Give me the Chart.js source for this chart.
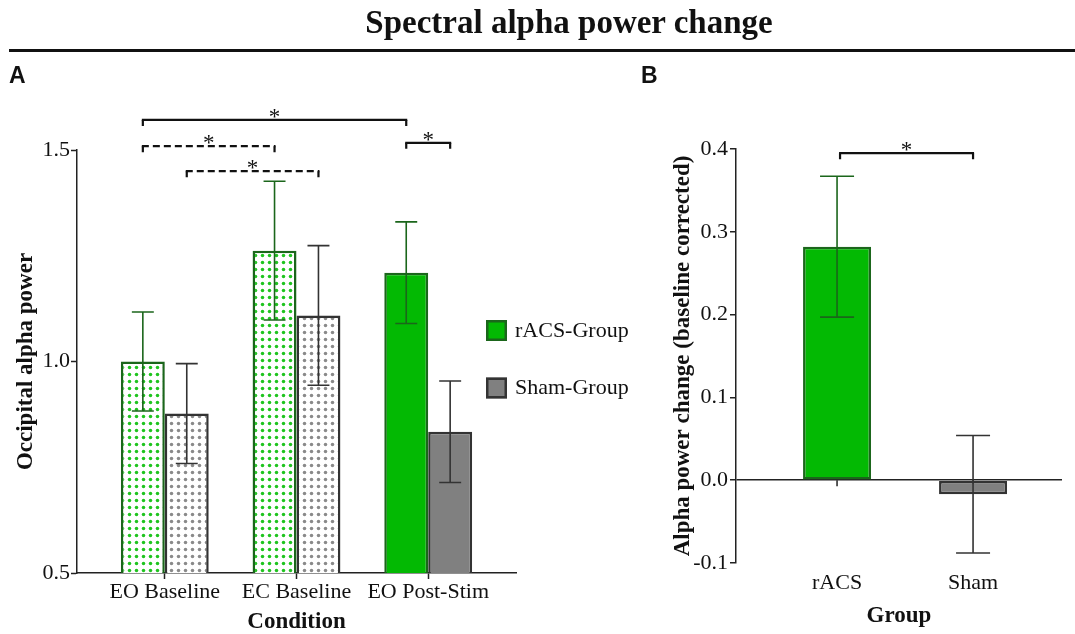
<!DOCTYPE html>
<html><head><meta charset="utf-8">
<script src="https://cdn.jsdelivr.net/npm/chart.js@4.4.1/dist/chart.umd.min.js"></script>
<style>
html,body{margin:0;padding:0;background:#fff;}
#wrap{position:relative;width:1075px;height:634px;overflow:hidden;background:#fff;}
#title{position:absolute;left:569px;top:3px;transform:translateX(-50%);font:bold 33px 'Liberation Serif','Times New Roman',serif;line-height:38px;white-space:nowrap;color:#111;}
#rule{position:absolute;left:9px;top:49px;width:1066px;height:3px;background:#111;}
.panel{position:absolute;top:64px;font:bold 23px 'Liberation Sans',Arial,sans-serif;line-height:23px;color:#111;}
#cA{position:absolute;left:0;top:0;}
#cB{position:absolute;left:640px;top:0;}
</style></head><body>
<div id="wrap">
<canvas id="cA" width="640" height="634"></canvas>
<canvas id="cB" width="435" height="634"></canvas>
<div id="title">Spectral alpha power change</div>
<div id="rule"></div>
<div class="panel" style="left:9px">A</div>
<div class="panel" style="left:641px">B</div>
</div>
<script>
// ---- data ----
const conditions = ['EO Baseline', 'EC Baseline', 'EO Post-Stim'];
const racsMean = [1.0, 1.262, 1.21];
const racsSem = [0.117, 0.164, 0.12];
const shamMean = [0.877, 1.109, 0.834];
const shamSem = [0.118, 0.165, 0.12];
const yTicksA = [0.5, 1.0, 1.5];

const groups = ['rACS', 'Sham'];
const changeMean = [0.282, -0.017];
const changeSem = [0.085, 0.071];
const yTicksB = [-0.1, 0.0, 0.1, 0.2, 0.3, 0.4];

// significance comparisons: [datasetIndex, categoryIndex]
const sigA = [
  {from: [0, 0], to: [0, 2], level: 1.571, dashed: false},
  {from: [0, 0], to: [0, 1], level: 1.509, dashed: true},
  {from: [1, 0], to: [1, 1], level: 1.450, dashed: true},
  {from: [0, 2], to: [1, 2], level: 1.517, dashed: false}
];
const sigB = [{from: 0, to: 1, level: 0.395, dashed: false}];

// ---- styles ----
const SERIF = "'Liberation Serif','Times New Roman',serif";
const INK = '#111111';
const GREEN = '#03b903';
const DKGREEN = '#1b661b';
const GRAY = '#808080';
const DKGRAY = '#333333';

function dots(ctx, color) {
  const c = document.createElement('canvas');
  c.width = 7; c.height = 7;
  const g = c.getContext('2d');
  g.fillStyle = '#ffffff'; g.fillRect(0, 0, 7, 7);
  g.fillStyle = color;
  g.beginPath(); g.arc(3.5, 3.5, 1.75, 0, Math.PI * 2); g.fill();
  return ctx.createPattern(c, 'repeat');
}
const ctxA = document.getElementById('cA').getContext('2d');
const patG = dots(ctxA, '#1fc41f');
const patS = dots(ctxA, '#8a8a8a');

const tickFont = {family: SERIF, size: 22};
const titleFont = {family: SERIF, size: 23, weight: 'bold', lineHeight: 1};

const errorBars = {
  id: 'errorBars',
  afterDatasetsDraw(chart) {
    const ctx = chart.ctx, ys = chart.scales.y;
    ctx.save();
    chart.data.datasets.forEach((ds, di) => {
      const meta = chart.getDatasetMeta(di);
      meta.data.forEach((bar, i) => {
        const m = ds.data[i].y, e = ds.errors[i];
        const t = ys.getPixelForValue(m + e), b = ys.getPixelForValue(m - e);
        const h = bar.width * 0.25;
        ctx.strokeStyle = Array.isArray(ds.errorColor) ? ds.errorColor[i] : ds.errorColor;
        ctx.lineWidth = 1.6;
        ctx.beginPath();
        ctx.moveTo(bar.x, t); ctx.lineTo(bar.x, b);
        ctx.moveTo(bar.x - h, t); ctx.lineTo(bar.x + h, t);
        ctx.moveTo(bar.x - h, b); ctx.lineTo(bar.x + h, b);
        ctx.stroke();
      });
    });
    ctx.restore();
  }
};

function drawBracket(ctx, x1, x2, ly, dashed) {
  ctx.save();
  ctx.strokeStyle = INK; ctx.lineWidth = 2.2;
  ctx.beginPath();
  ctx.moveTo(x1, ly + 6); ctx.lineTo(x1, ly);
  ctx.moveTo(x2, ly); ctx.lineTo(x2, ly + 6);
  ctx.stroke();
  ctx.setLineDash(dashed ? [7, 4] : []);
  ctx.beginPath();
  ctx.moveTo(x1 - 1, ly); ctx.lineTo(x2 + 1, ly);
  ctx.stroke();
  ctx.setLineDash([]);
  ctx.fillStyle = INK;
  ctx.font = '23px ' + SERIF;
  ctx.textAlign = 'center'; ctx.textBaseline = 'alphabetic';
  ctx.fillText('*', (x1 + x2) / 2, ly + 4);
  ctx.restore();
}

const sigPluginA = {
  id: 'sigA',
  afterDatasetsDraw(chart) {
    const ys = chart.scales.y;
    sigA.forEach(s => {
      const x1 = chart.getDatasetMeta(s.from[0]).data[s.from[1]].x;
      const x2 = chart.getDatasetMeta(s.to[0]).data[s.to[1]].x;
      drawBracket(chart.ctx, x1, x2, ys.getPixelForValue(s.level), s.dashed);
    });
  }
};

const legendA = {
  id: 'legendA',
  afterDraw(chart) {
    const ctx = chart.ctx;
    ctx.save();
    chart.data.datasets.forEach((ds, i) => {
      const x = 486, y = 320 + i * 57.5;
      ctx.fillStyle = ds.legendFill;
      ctx.fillRect(x, y, 21, 21);
      ctx.strokeStyle = ds.borderColor; ctx.lineWidth = 2.5;
      ctx.strokeRect(x + 1.25, y + 1.25, 18.5, 18.5);
      ctx.fillStyle = INK;
      ctx.font = '22px ' + SERIF;
      ctx.textAlign = 'left'; ctx.textBaseline = 'middle';
      ctx.fillText(ds.label, 515, y + 11);
    });
    ctx.restore();
  }
};

const gridA = {drawOnChartArea: false, drawTicks: true, tickLength: 6, tickColor: '#222', tickWidth: 1.5, offset: false};

new Chart(document.getElementById('cA'), {
  type: 'bar',
  data: {
    datasets: [
      {
        label: 'rACS-Group',
        data: racsMean.map((y, i) => ({x: i, y})),
        errors: racsSem,
        backgroundColor: [patG, patG, GREEN],
        borderColor: DKGREEN, borderWidth: 2.5, borderSkipped: false,
        errorColor: DKGREEN, legendFill: GREEN,
        categoryPercentage: 0.667, barPercentage: 1.0
      },
      {
        label: 'Sham-Group',
        data: shamMean.map((y, i) => ({x: i, y})),
        errors: shamSem,
        backgroundColor: [patS, patS, GRAY],
        borderColor: DKGRAY, borderWidth: 2.5, borderSkipped: false,
        errorColor: DKGRAY, legendFill: GRAY,
        categoryPercentage: 0.667, barPercentage: 1.0
      }
    ]
  },
  options: {
    responsive: false, animation: false,
    layout: {padding: {top: 150, right: 124, bottom: 0, left: 0}},
    plugins: {legend: {display: false}, tooltip: {enabled: false}},
    scales: {
      x: {
        type: 'linear', min: -2 / 3, max: 8 / 3, offset: false,
        afterBuildTicks: s => { s.ticks = conditions.map((_, i) => ({value: i})); },
        afterFit: s => { s.height = 61; },
        ticks: {callback: v => conditions[v], font: tickFont, color: INK, padding: 0, maxRotation: 0, autoSkip: false},
        grid: gridA,
        border: {display: true, color: '#222', width: 1.5},
        title: {display: true, text: 'Condition', font: titleFont, color: INK, padding: {top: 0, bottom: 0.5}}
      },
      y: {
        type: 'linear', min: yTicksA[0], max: yTicksA[yTicksA.length - 1],
        afterBuildTicks: s => { s.ticks = yTicksA.map(v => ({value: v})); },
        afterFit: s => { s.width = 77; },
        ticks: {callback: v => Number(v).toFixed(1), font: tickFont, color: INK, padding: 1},
        grid: gridA,
        border: {display: true, color: '#222', width: 1.5},
        title: {display: true, text: 'Occipital alpha power', font: titleFont, color: INK, padding: {top: 14.5, bottom: 0}}
      }
    }
  },
  plugins: [errorBars, sigPluginA, legendA]
});

const zeroTicksB = {
  id: 'zeroTicksB',
  beforeDatasetsDraw(chart) {
    const ctx = chart.ctx, xs = chart.scales.x, ys = chart.scales.y;
    const y0 = ys.getPixelForValue(0);
    ctx.save();
    ctx.strokeStyle = '#222'; ctx.lineWidth = 1.5;
    groups.forEach((_, i) => {
      const x = xs.getPixelForValue(i);
      ctx.beginPath(); ctx.moveTo(x, y0); ctx.lineTo(x, y0 + 6); ctx.stroke();
    });
    ctx.restore();
  }
};
const sigPluginB = {
  id: 'sigB',
  afterDatasetsDraw(chart) {
    const ys = chart.scales.y, meta = chart.getDatasetMeta(0);
    sigB.forEach(s => {
      drawBracket(chart.ctx, meta.data[s.from].x + 3, meta.data[s.to].x, ys.getPixelForValue(s.level), s.dashed);
    });
  }
};

new Chart(document.getElementById('cB'), {
  type: 'bar',
  data: {
    datasets: [{
      label: 'Alpha power change',
      data: changeMean.map((y, i) => ({x: i, y})),
      errors: changeSem,
      backgroundColor: [GREEN, GRAY],
      borderColor: [DKGREEN, DKGRAY], borderWidth: 2.5, borderSkipped: false,
      errorColor: [DKGREEN, DKGRAY],
      categoryPercentage: 0.5, barPercentage: 1.0
    }]
  },
  options: {
    responsive: false, animation: false,
    layout: {padding: {top: 149, right: 13, bottom: 0, left: 0}},
    plugins: {legend: {display: false}, tooltip: {enabled: false}},
    scales: {
      x: {
        type: 'linear', min: -0.743, max: 1.654, offset: false,
        afterBuildTicks: s => { s.ticks = groups.map((_, i) => ({value: i})); },
        afterFit: s => { s.height = 71; },
        ticks: {callback: v => groups[v], font: tickFont, color: INK, padding: 7, maxRotation: 0, autoSkip: false},
        grid: {display: false, drawTicks: false, offset: false},
        border: {display: false},
        title: {display: true, text: 'Group', font: titleFont, color: INK, padding: {top: 0, bottom: 6}}
      },
      y: {
        type: 'linear', min: yTicksB[0], max: yTicksB[yTicksB.length - 1],
        afterBuildTicks: s => { s.ticks = yTicksB.map(v => ({value: v})); },
        afterFit: s => { s.width = 96; },
        ticks: {callback: v => Number(v).toFixed(1), font: tickFont, color: INK, padding: 2},
        grid: {
          drawOnChartArea: true, drawTicks: true, tickLength: 6, offset: false,
          color: c => (c.tick && Math.abs(c.tick.value) < 1e-9) ? '#222' : 'rgba(0,0,0,0)',
          lineWidth: 1.5, tickColor: '#222', tickWidth: 1.5
        },
        border: {display: true, color: '#222', width: 1.5},
        title: {display: true, text: 'Alpha power change (baseline corrected)', font: titleFont, color: INK, padding: {top: 31.5, bottom: 0}}
      }
    }
  },
  plugins: [zeroTicksB, errorBars, sigPluginB]
});
</script>
</body></html>
